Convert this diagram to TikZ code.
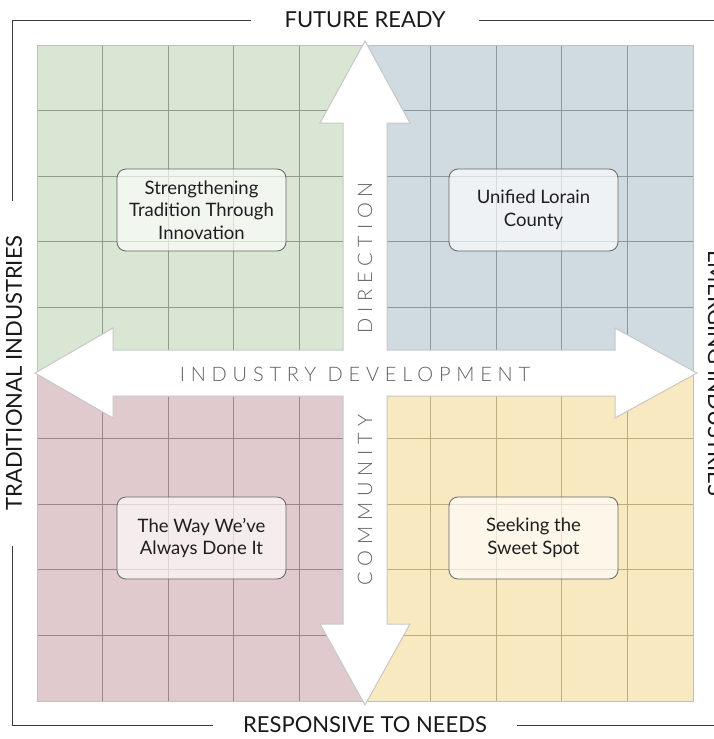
\documentclass[tikz,border=0pt]{standalone}
\usepackage{fontspec}
\setmainfont{Lato}
\newfontfamily\axisfont[LetterSpace=29]{Lato Light}
\definecolor{greenfill}{HTML}{D9E6D4}
\definecolor{greenline}{HTML}{8E9E8B}
\definecolor{bluefill}{HTML}{CFDBE1}
\definecolor{blueline}{HTML}{8C989E}
\definecolor{pinkfill}{HTML}{E1CACD}
\definecolor{pinkline}{HTML}{9C8689}
\definecolor{yellowfill}{HTML}{F9E9C1}
\definecolor{yellowline}{HTML}{BFAB7D}
\definecolor{labelgray}{HTML}{606060}
\definecolor{framegray}{HTML}{3A3A3A}
\begin{document}
\begin{tikzpicture}[x=1pt,y=-1pt,
    quadbox/.style={draw=black!60,line width=0.8pt,fill=white,fill opacity=0.65,
      text opacity=1,rounded corners=9pt,minimum width=169pt,minimum height=82pt,
      align=center,font=\fontsize{18.5}{22.5}\selectfont,text=black!88},
    framelabel/.style={inner sep=0pt,font=\fontsize{22}{26}\selectfont,text=black!90},
    axislabel/.style={inner sep=0pt,font=\axisfont\fontsize{20}{24}\selectfont,text=labelgray}]
  \useasboundingbox (0,0) rectangle (714,739);
  % quadrants
  \foreach \qx/\qy/\qfill/\qline in {37/45/greenfill/greenline,365/45/bluefill/blueline,
      37/373/pinkfill/pinkline,365/373/yellowfill/yellowline} {
    \fill[\qfill] (\qx,\qy) rectangle ++(328,328);
    \foreach \k in {1,...,4} {
      \draw[\qline,line width=0.9pt] (\qx+\k*65.6,\qy) -- ++(0,328);
      \draw[\qline,line width=0.9pt] (\qx,\qy+\k*65.6) -- ++(328,0);
    }
  }
  \draw[black!25,line width=0.8pt] (37,45) rectangle (693,701);
  % arrows
  \draw[black!22,fill=white,line width=1pt,line join=miter]
    (365,41) -- (410,123) -- (387,123) -- (387,350) -- (615,350) -- (615,328)
    -- (697,373) -- (615,418) -- (615,396) -- (387,396) -- (387,624) -- (410,624)
    -- (365,705) -- (320,624) -- (343,624) -- (343,396) -- (113,396) -- (113,418)
    -- (35,373) -- (113,328) -- (113,350) -- (343,350) -- (343,123) -- (320,123) -- cycle;
  \draw
    (365,258) node[axislabel,rotate=90] (direction){DIRECTION}
    (365,500) node[axislabel,rotate=90] (community){COMMUNITY}
    (355,374) node[axislabel] (development){INDUSTRY DEVELOPMENT};
  % quadrant names
  \draw
    (201.5,210) node[quadbox] (strong){Strengthening\\Tradition Through\\Innovation}
    (533.5,210) node[quadbox] (unified){Unified Lorain\\County}
    (201.5,538) node[quadbox] (always){The Way We’ve\\Always Done It}
    (533.5,538) node[quadbox] (sweet){Seeking the\\Sweet Spot};
  % frame
  \draw
    (365,20) node[framelabel] (future){FUTURE READY}
    (365,725) node[framelabel] (needs){RESPONSIVE TO NEEDS}
    (14,373) node[framelabel,rotate=90] (traditional){TRADITIONAL INDUSTRIES}
    (716,373) node[framelabel,rotate=-90] (emerging){EMERGING INDUSTRIES};
  \coordinate (topleft) at (12,20);
  \coordinate (topright) at (714,20);
  \coordinate (bottomleft) at (12,725);
  \coordinate (bottomright) at (714,725);
  \coordinate (leftgaptop) at ([yshift=34pt]traditional.east);
  \coordinate (leftgapbottom) at ([yshift=-35pt]traditional.west);
  \begin{scope}[framegray,line width=0.8pt]
    \draw ([xshift=-33pt]future.west) -- (topleft) -- (topleft |- leftgaptop);
    \draw ([xshift=33pt]future.east) -- (topright);
    \draw ([xshift=-30pt]needs.west) -- (bottomleft) -- (bottomleft |- leftgapbottom);
    \draw ([xshift=30pt]needs.east) -- (bottomright);
  \end{scope}
\end{tikzpicture}
\end{document}
